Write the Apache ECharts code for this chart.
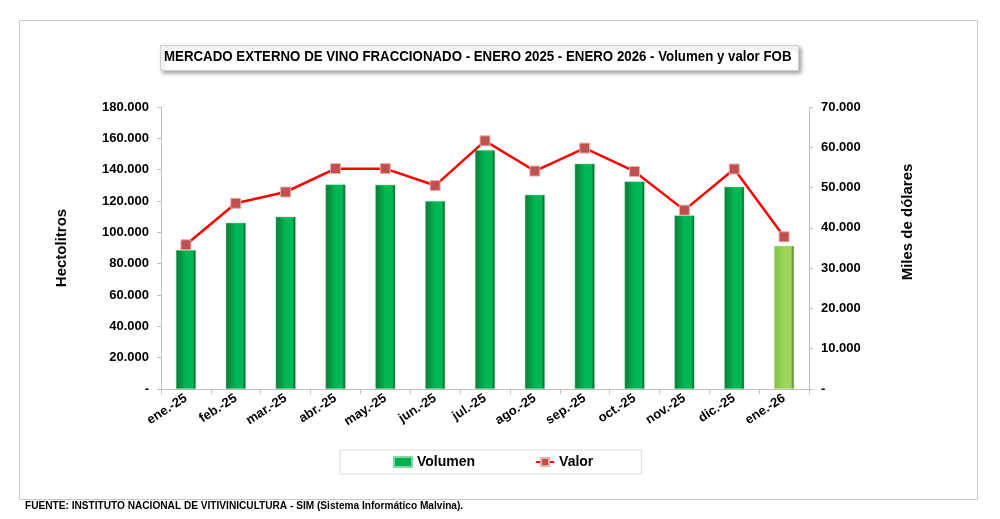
<!DOCTYPE html>
<html lang="es">
<head>
    <meta charset="UTF-8">
    <title>Mercado externo de vino fraccionado</title>
    <script src="https://cdn.jsdelivr.net/npm/echarts@6/dist/echarts.min.js"></script>
    <style>
        html, body { margin: 0; padding: 0; background: #fff; }
        #chart { width: 1000px; height: 519px; }
    </style>
</head>
<body>
    <div id="chart"></div>
    <script>
        // datos
        const meses = ['ene.-25', 'feb.-25', 'mar.-25', 'abr.-25', 'may.-25', 'jun.-25', 'jul.-25',
            'ago.-25', 'sep.-25', 'oct.-25', 'nov.-25', 'dic.-25', 'ene.-26'];
        const volumen = [88700, 106100, 110000, 130600, 130400, 120000, 152500,
            124000, 143800, 132500, 110800, 129100, 91400];
        const valor = [35800, 46100, 48900, 54700, 54700, 50500, 61600,
            54100, 59800, 54000, 44400, 54600, 37800];
        const ticksIzq = [0, 20000, 40000, 60000, 80000, 100000, 120000, 140000, 160000, 180000];
        const ticksDer = [0, 10000, 20000, 30000, 40000, 50000, 60000, 70000];

        const fuente = "'Liberation Sans', Arial, sans-serif";

        function miles(v) {
            if (v === 0) return '-';
            return v.toString().replace(/\B(?=(\d{3})+(?!\d))/g, '.');
        }

        function degradado(c1, c2, c3) {
            return new echarts.graphic.LinearGradient(0, 0, 1, 0, [
                { offset: 0, color: c1 },
                { offset: 0.5, color: c2 },
                { offset: 0.85, color: c2 },
                { offset: 1, color: c3 }
            ]);
        }
        const verde = degradado('#0f7a37', '#00b853', '#073d1b');
        const verdeClaro = degradado('#7fbf3f', '#9cd65a', '#3b5520');

        const barras = volumen.map(function (v, i) {
            if (i === volumen.length - 1) {
                return { value: v, itemStyle: { color: verdeClaro, borderColor: '#c9e7a7' } };
            }
            return v;
        });

        const chart = echarts.init(document.getElementById('chart'));
        chart.setOption({
            animation: false,
            textStyle: { fontFamily: fuente },
            graphic: [
                {
                    type: 'rect', left: 17, top: 18,
                    shape: { width: 958, height: 479 },
                    style: { fill: 'none', stroke: '#c8c8c8', lineWidth: 1 }
                },
                {
                    type: 'rect', left: 160, top: 45,
                    shape: { width: 638, height: 25 },
                    style: { fill: '#fff', stroke: '#d0d0d0', lineWidth: 1, shadowBlur: 4, shadowOffsetX: 2, shadowOffsetY: 2, shadowColor: 'rgba(0,0,0,0.35)' }
                },
                {
                    type: 'text', x: 164, y: 49, scaleX: 0.885,
                    style: {
                        text: 'MERCADO EXTERNO DE VINO FRACCIONADO - ENERO 2025 - ENERO 2026 - Volumen y valor FOB',
                        font: 'bold 15px ' + fuente, fill: '#000'
                    }
                },
                {
                    type: 'text', x: 908, y: 222, rotation: Math.PI / 2,
                    style: {
                        text: 'Miles de dólares', font: 'bold 15px ' + fuente, fill: '#000',
                        align: 'center', verticalAlign: 'middle'
                    }
                },
                {
                    type: 'text', x: 25, y: 500, scaleX: 0.92,
                    style: {
                        text: 'FUENTE: INSTITUTO NACIONAL DE VITIVINICULTURA - SIM (Sistema Informático Malvina).',
                        font: 'bold 11px ' + fuente, fill: '#000'
                    }
                }
            ],
            legend: {
                left: 340, top: 450,
                padding: [5, 48, 5, 53],
                itemGap: 60,
                itemWidth: 18, itemHeight: 10,
                borderColor: '#d9d9d9', borderWidth: 1,
                backgroundColor: '#fff',
                textStyle: { fontWeight: 'bold', fontSize: 14, color: '#000', fontFamily: fuente },
                data: [
                    { name: 'Volumen', icon: 'rect', itemStyle: { color: '#00b050' } },
                    { name: 'Valor' }
                ]
            },
            grid: { left: 161, right: 191, top: 107, bottom: 130 },
            xAxis: {
                type: 'category',
                data: meses,
                axisLine: { lineStyle: { color: '#bfbfbf' } },
                axisTick: { show: true, length: 5, lineStyle: { color: '#bfbfbf' } },
                axisLabel: { rotate: 33, fontWeight: 'bold', fontSize: 13, color: '#000', margin: 8 }
            },
            yAxis: [
                {
                    type: 'value', min: 0, max: 180000, interval: 20000,
                    name: 'Hectolitros', nameLocation: 'middle', nameGap: 92, nameRotate: 90,
                    nameTextStyle: { fontWeight: 'bold', fontSize: 15, color: '#000' },
                    axisLine: { show: true, lineStyle: { color: '#bfbfbf' } },
                    axisTick: { show: true, length: 4, lineStyle: { color: '#bfbfbf' } },
                    splitLine: { show: false },
                    axisLabel: {
                        fontWeight: 'bold', fontSize: 13, color: '#000', margin: 12,
                        formatter: function (v) { return ticksIzq.indexOf(v) >= 0 ? miles(v) : ''; }
                    }
                },
                {
                    type: 'value', min: 0, max: 70000, interval: 10000,
                    axisLine: { show: true, lineStyle: { color: '#bfbfbf' } },
                    axisTick: { show: true, length: 4, lineStyle: { color: '#bfbfbf' } },
                    splitLine: { show: false },
                    axisLabel: {
                        fontWeight: 'bold', fontSize: 13, color: '#000', margin: 12,
                        formatter: function (v) { return ticksDer.indexOf(v) >= 0 ? miles(v) : ''; }
                    }
                }
            ],
            series: [
                {
                    name: 'Volumen', type: 'bar', yAxisIndex: 0,
                    barWidth: 20,
                    itemStyle: { color: verde, borderColor: '#7fd9a0', borderWidth: 0.5 },
                    data: barras
                },
                {
                    name: 'Valor', type: 'line', yAxisIndex: 1,
                    symbol: 'rect', symbolSize: 10,
                    lineStyle: { color: '#ff0000', width: 2.5 },
                    itemStyle: { color: '#c0504d', borderColor: '#e6b0ae', borderWidth: 1 },
                    data: valor
                }
            ]
        });
    </script>
</body>
</html>
